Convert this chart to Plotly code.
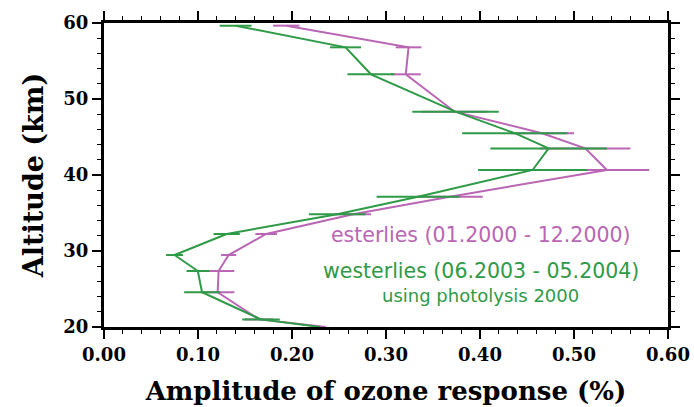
import plotly.graph_objects as go

# Altitude levels (km) shared by both profiles
altitude = [59.65, 56.8, 53.25, 48.33, 45.5, 43.5, 40.66, 37.14, 34.83, 32.24, 29.47, 27.37, 24.57, 21.0, 20.0]

# Esterlies (01.2000 - 12.2000): amplitude of ozone response (%) and uncertainty
amp_east = [0.194, 0.324, 0.321, 0.373, 0.466, 0.512, 0.535, 0.368, 0.265, 0.1725, 0.1326, 0.1219, 0.1209, 0.165, 0.236]
err_east = [0.014, 0.0137, 0.016, 0.035, 0.034, 0.048, 0.045, 0.035, 0.019, 0.0115, 0.008, 0.0167, 0.0178, 0.015, 0.0]

# Westerlies (06.2003 - 05.2004), photolysis 2000
amp_west = [0.140, 0.257, 0.284, 0.374, 0.437, 0.473, 0.456, 0.334, 0.248, 0.1305, 0.0751, 0.0998, 0.1043, 0.167, 0.230]
err_west = [0.017, 0.0165, 0.025, 0.046, 0.056, 0.062, 0.058, 0.044, 0.030, 0.014, 0.009, 0.012, 0.019, 0.020, 0.0]

x_ticks = [0.0, 0.1, 0.2, 0.3, 0.4, 0.5, 0.6]
y_ticks = [20, 30, 40, 50, 60]

MAGENTA = "#b966b5"
GREEN = "#2f9a47"

fig = go.Figure()
for amp, err, col in [(amp_east, err_east, MAGENTA), (amp_west, err_west, GREEN)]:
    fig.add_trace(go.Scatter(
        x=amp, y=altitude, mode="lines",
        line=dict(color=col, width=2),
        error_x=dict(type="data", array=err, visible=True, color=col, thickness=2, width=0),
        showlegend=False, hoverinfo="skip",
    ))

tick_font = dict(family="DejaVu Serif", size=18, color="black", weight="bold")

axis_common = dict(
    showline=True, linecolor="black", linewidth=3, mirror="ticks",
    ticks="outside", ticklen=9, tickwidth=1.5, tickcolor="black",
    showgrid=False, zeroline=False, tickfont=tick_font, automargin=False,
)

fig.update_xaxes(
    range=[0, 0.6], tickvals=x_ticks, tickformat=".2f",
    minor=dict(dtick=0.02, ticklen=4, tickwidth=1, tickcolor="black", ticks="outside", showgrid=False),
    title=dict(text="Amplitude of ozone response (%)", standoff=19,
               font=dict(family="DejaVu Serif", size=26, color="black", weight="bold")),
    **axis_common,
)
fig.update_yaxes(
    range=[20, 60], tickvals=y_ticks,
    minor=dict(dtick=2, ticklen=4, tickwidth=1, tickcolor="black", ticks="outside", showgrid=False),
    title=dict(text="Altitude (km)", standoff=12,
               font=dict(family="DejaVu Serif", size=27, color="black", weight="bold")),
    **axis_common,
)

labels = [
    ("esterlies (01.2000 - 12.2000)", 32.1, MAGENTA, 20.5),
    ("westerlies (06.2003 - 05.2004)", 27.4, GREEN, 20.5),
    ("using photolysis 2000", 24.2, GREEN, 18),
]
for text, alt, col, size in labels:
    fig.add_annotation(
        x=0.401, y=alt, xref="x", yref="y", text=text, showarrow=False,
        font=dict(family="DejaVu Sans", size=size, color=col),
        xanchor="center", yanchor="middle",
    )

fig.update_layout(
    width=694, height=407,
    margin=dict(l=104, r=26, t=23, b=80),
    paper_bgcolor="white", plot_bgcolor="white",
)

fig.write_html("out.html")
